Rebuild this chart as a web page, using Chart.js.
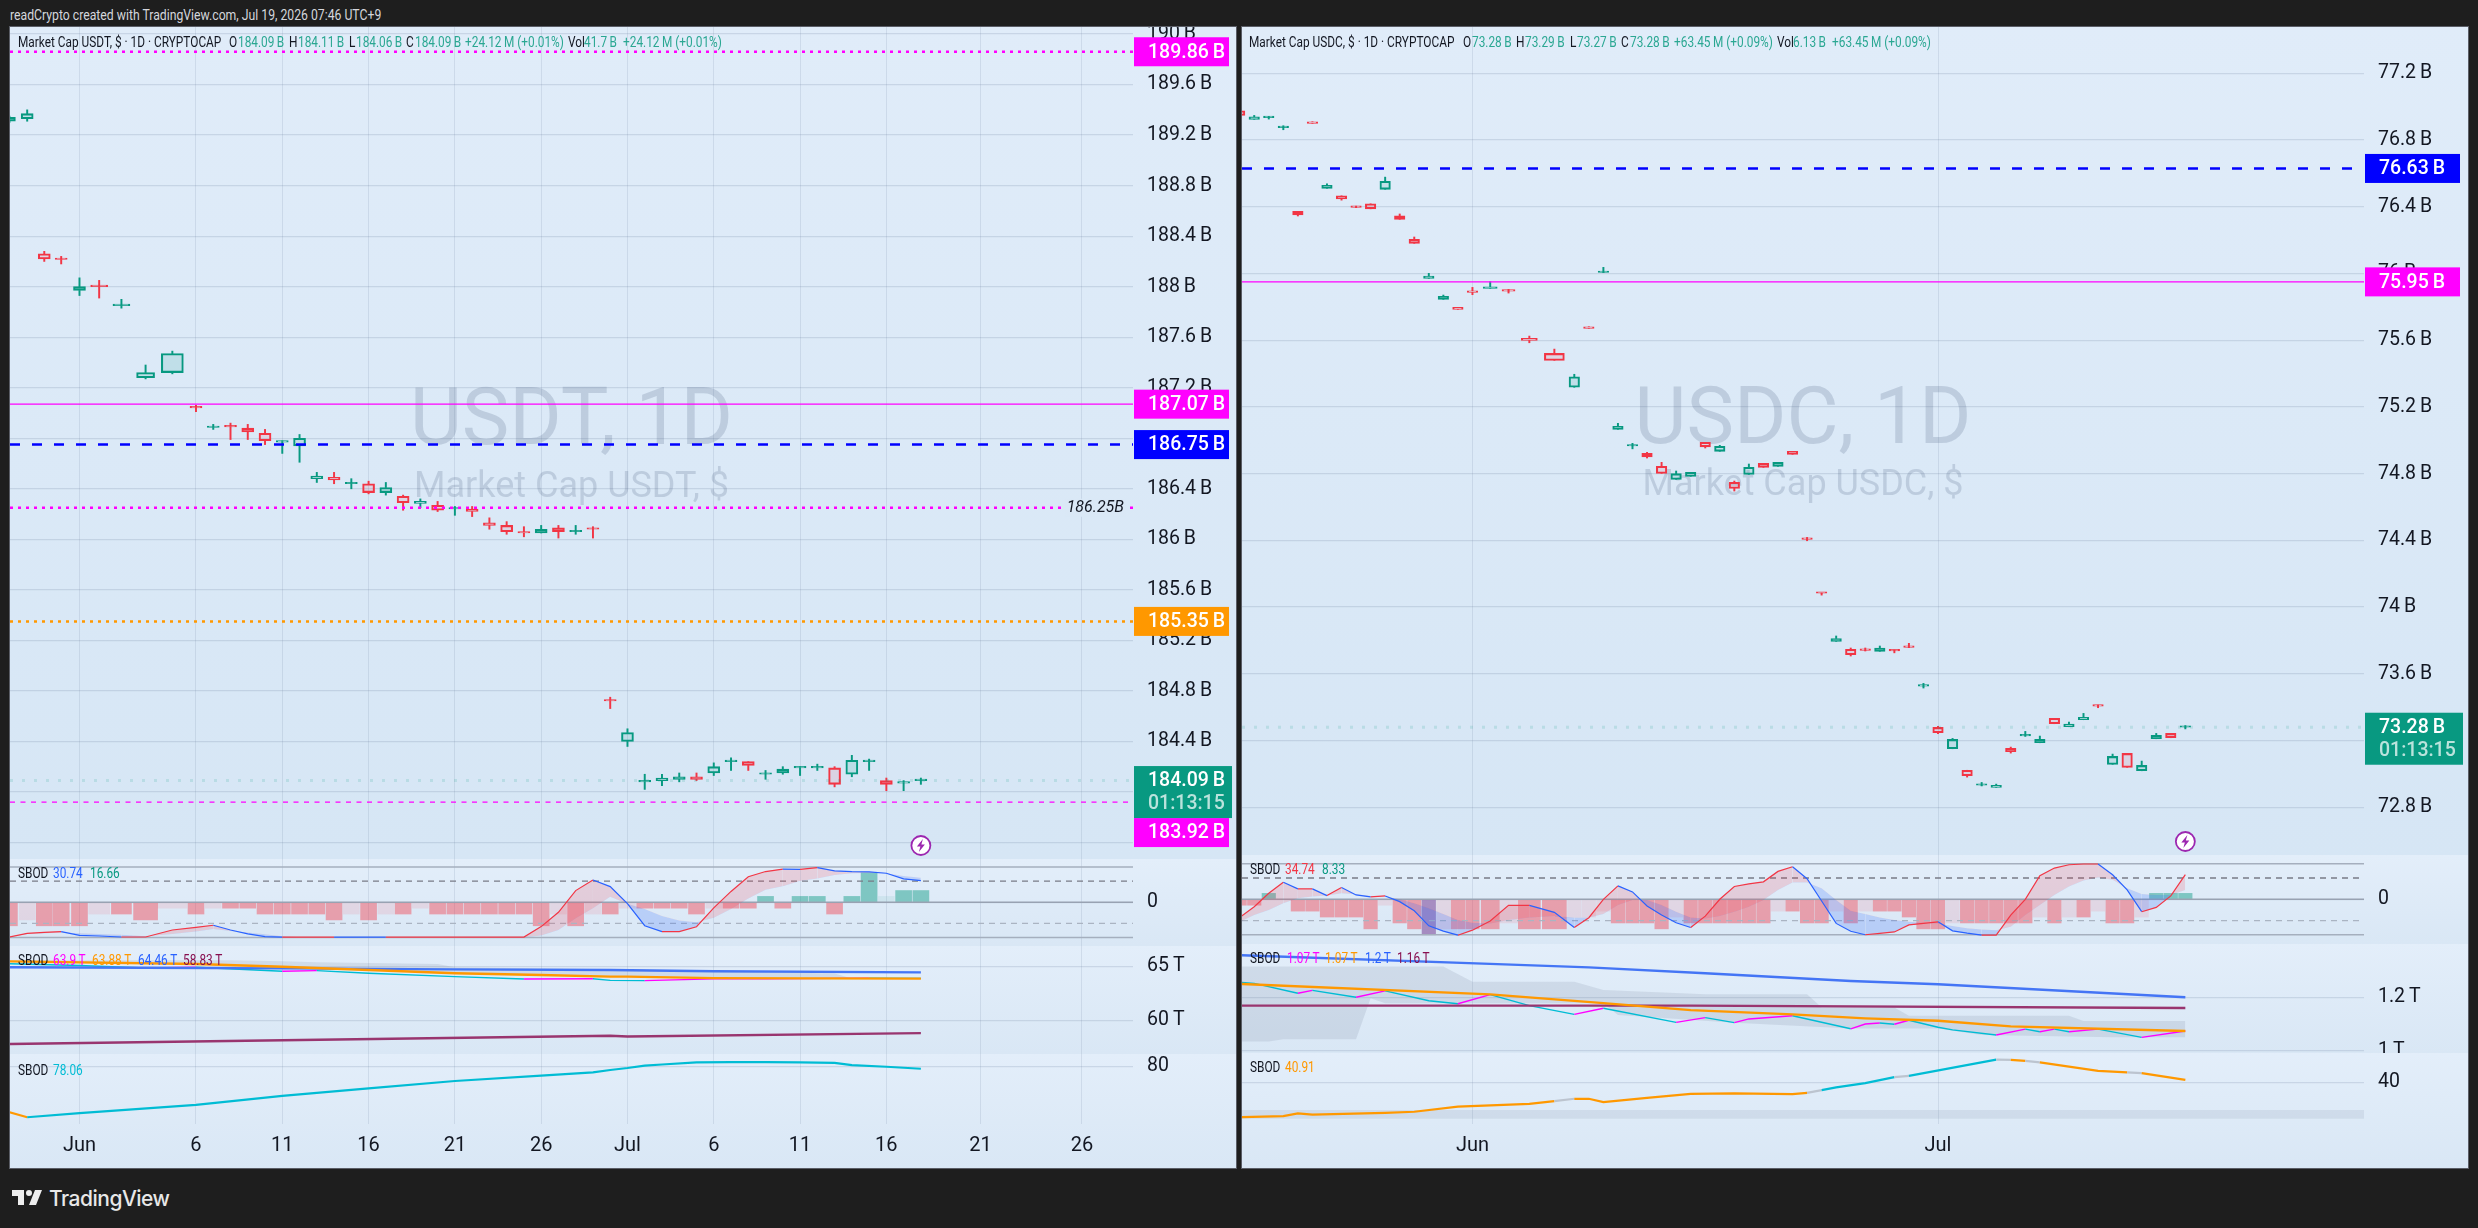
<!DOCTYPE html>
<html>
<head>
<meta charset="utf-8">
<title>USDT / USDC market cap</title>
<script src="https://cdn.jsdelivr.net/npm/chart.js@4/dist/chart.umd.js"></script>
<style>
  html, body { margin: 0; background: #1e1e1e; width: 2478px; height: 1228px; overflow: hidden; font-family: Roboto, sans-serif; }
  .pane { position: absolute; }
  .pane canvas { display: block; }
  .frame { position: absolute; border: 1px solid #5a5d66; pointer-events: none; box-sizing: border-box; }
  .txt { position: absolute; white-space: pre; line-height: 1; transform-origin: left center; z-index: 5; }
  #brand { position: absolute; left: 49px; top: 1186px; font: 500 21px Inter, sans-serif; letter-spacing: -0.5px; color: #e8e8e8; }
  #logo { position: absolute; left: 10px; top: 1184px; }
</style>
</head>
<body>
<svg id="logo" width="36" height="28" viewBox="0 0 36 28"><path fill="#eeeeee" d="M14 6H2v6h6v9h6V6Zm12 15h-7l6-15h7l-6 15Zm-7-9a3 3 0 1 0 0-6 3 3 0 0 0 0 6Z"/></svg>
<div id="brand">TradingView</div>
<div class="frame" style="left:9px;top:26px;width:1228px;height:1143px"></div>
<div class="frame" style="left:1241px;top:26px;width:1228px;height:1143px"></div>

<script>
// ---------- USDT ----------
const usdtBars = [0.19,1.22,2.21,3.19,4.25,5.39,6.68,8.08,9.63,11,12,13,14,15,16,17,18,19,20,21,22,23,24,25,26,27,28,29,30,31,32,33,34,35,36,37,38,39,40,41,42,43,44,45,46,47,48,49,50,51,52,53];
const usdtOpen = [189.31,189.33,188.26,188.22,187.97,188.005,187.85,187.28,187.32,187.045,186.885,186.895,186.88,186.84,186.77,186.74,186.48,186.49,186.44,186.44,186.37,186.34,186.285,186.27,186.24,186.24,186.13,186.11,186.06,186.05,186.09,186.06,186.085,184.725,184.40,184.08,184.09,184.10,184.12,184.15,184.24,184.24,184.14,184.15,184.19,184.19,184.19,184.14,184.24,184.09,184.07,184.09];
const usdtHigh = [189.35,189.40,188.28,188.24,188.07,188.05,187.90,187.38,187.49,187.06,186.91,186.92,186.91,186.87,186.78,186.83,186.53,186.53,186.48,186.46,186.45,186.35,186.32,186.30,186.26,186.26,186.17,186.14,186.10,186.11,186.11,186.11,186.10,184.75,184.50,184.14,184.14,184.15,184.15,184.23,184.27,184.24,184.17,184.20,184.20,184.22,184.20,184.29,184.26,184.11,184.09,184.11];
const usdtLow = [189.30,189.31,188.20,188.18,187.93,187.91,187.83,187.27,187.31,187.01,186.87,186.79,186.79,186.75,186.68,186.61,186.45,186.44,186.40,186.36,186.35,186.23,186.25,186.22,186.19,186.18,186.08,186.04,186.02,186.05,186.01,186.04,186.01,184.66,184.36,184.02,184.05,184.08,184.09,184.13,184.17,184.17,184.10,184.14,184.13,184.17,184.04,184.12,184.17,184.01,184.01,184.06];
const usdtClose = [189.34,189.37,188.22,188.215,188.00,188.00,187.855,187.32,187.47,187.04,186.89,186.89,186.85,186.78,186.775,186.80,186.50,186.47,186.445,186.37,186.41,186.29,186.30,186.23,186.245,186.22,186.11,186.06,186.05,186.08,186.06,186.065,186.08,184.72,184.47,184.085,184.11,184.12,184.10,184.20,184.245,184.21,184.145,184.18,184.195,184.195,184.06,184.25,184.245,184.06,184.075,184.09];
const usdtPriceTicks = [190,189.6,189.2,188.8,188.4,188,187.6,187.2,186.8,186.4,186,185.6,185.2,184.8,184.4,184,183.6];
const usdtDayTicks = [4.25,11,16,21,26,31,36,41,46,51,56.45,62.33];
const usdtDayLabels = ["Jun","6","11","16","21","26","Jul","6","11","16","21","26"];
const usdtHist = [-33.33,-25,-33.33,-33.33,-33.33,-16.66,-16.66,-25,-8.33,-16.66,-8.33,-8.33,-8.33,-16.66,-16.66,-16.66,-16.66,-25,-16.66,-25,-16.66,-16.66,-8.33,-16.66,-16.66,-16.66,-16.66,-16.66,-16.66,-33.33,-16.66,-33.33,-16.66,-16.66,-8.33,-8.33,-8.33,-8.33,-16.66,-8.33,-8.33,-8.33,8.33,-8.33,8.33,8.33,-16.66,8.33,41.65,8.33,16.66,16.66];
const usdtHistFaded = [2,6,9,11,19,21,23,31,33,35,40,50];
const usdtOsc = [-49.2,-44,-42.6,-41.6,-46.8,-47.8,-49.2,-49.2,-39.3,-35.5,-32.6,-39.3,-44.9,-48.7,-49.5,-49.45,-49.4,-49.35,-49.4,-49.45,-49.5,-49.48,-49.46,-49.44,-49.42,-49.4,-49.38,-49.36,-49.34,-34.5,-14.2,16.6,31.7,22.3,-2,-33.2,-41.7,-41.7,-34.7,-7.9,15.4,36.2,43.6,47.1,46.6,49.1,44.6,43.6,43.2,41.2,33.2,30.74];
const usdtOscAvg = [-49.5,-45,-44,-43,-44,-45,-46,-48,-45,-41.6,-38,-40.7,-43,-45.5,-48,-49.6,-49.6,-49.6,-49.6,-49.6,-49.6,-49.6,-49.6,-49.6,-49.6,-49.6,-49.6,-49.6,-49.6,-47,-39.3,-22.7,-8.5,7.9,-2,-9.5,-19.3,-25.8,-28.3,-21.8,-9.5,5.5,17.9,22.8,30.2,33.7,38.7,41.2,41.7,41.2,37.2,34.7];
// bar numbers are 1-based positions in usdtBars
const usdtFastBars = [1,5,8,10,15,17,20,25,29,33,34,36,40,43,49,52];
const usdtFast = [65.26,65.1,64.86,64.93,64.56,64.62,64.37,64.06,63.84,63.87,63.72,63.69,63.86,63.86,63.93,63.9];
const usdtEmaBars = [1,10,15,20,25,30,34,35,40,52];
const usdtEma = [65.48,65.23,64.98,64.68,64.37,64.21,64.06,64.06,63.93,63.88];
const usdtMaBars = [1,15,25,34,40,52];
const usdtMa = [64.93,64.83,64.74,64.68,64.56,64.46];
const usdtLongBars = [1,34,35,52];
const usdtLong = [57.82,58.59,58.52,58.83];
const usdtCloudBars = [1,12,15,17,24,25,34,47,48,52];
const usdtCloud = [65.57,65.57,65.48,65.40,65.23,64.93,64.74,64.35,63.9,63.9];
const usdtRsiBars = [1,2,5,10,15,20,25,30,33,34,35,36,37,39,41,43,45,47,48,50,52];
const usdtRsi = [44.5,40.7,43.8,50.2,57.1,63,68.6,72.7,75.3,77.1,78.6,80.4,81.3,82.9,83.1,83.2,83,82.5,80.8,79.6,78.06];

// ---------- USDC ----------
const usdcBars = [-1,0,1,2,3,4,5,6,7,8,9,10,11,12,13,14,15,16.22,17.48,18.91,20.63,22,23,24,25,26,27,28,29,30,31,32,33,34,35,36,37,38,39,40,41,42,43,44,45,46,47,48,49,50,51,52,53,54,55,56,57,58,59,60,61,62,63,64];
const usdcOpen = [76.976,76.924,76.935,76.875,76.373,76.910,76.511,76.466,76.398,76.418,76.505,76.346,76.205,75.971,75.845,75.797,75.897,75.911,75.896,75.611,75.521,75.318,75.681,76.006,75.066,74.966,74.922,74.844,74.766,74.784,74.988,74.934,74.748,74.796,74.862,74.844,74.934,74.407,74.084,73.794,73.747,73.742,73.735,73.739,73.760,73.526,73.279,73.151,73.022,72.932,72.919,73.153,73.228,73.187,73.333,73.283,73.325,73.408,73.057,73.123,73.019,73.211,73.243,73.28];
const usdcHigh = [76.976,76.948,76.942,76.886,76.373,76.910,76.538,76.466,76.404,76.418,76.578,76.357,76.219,76.001,75.871,75.797,75.917,75.951,75.905,75.625,75.547,75.396,75.681,76.037,75.102,74.982,74.928,74.868,74.816,74.808,74.988,74.970,74.756,74.858,74.862,74.868,74.934,74.418,74.084,73.827,73.755,73.755,73.767,73.743,73.783,73.543,73.285,73.213,73.022,72.949,72.939,73.161,73.255,73.227,73.333,73.311,73.363,73.413,73.119,73.123,73.077,73.243,73.243,73.29];
const usdcLow = [76.948,76.924,76.926,76.862,76.345,76.900,76.511,76.440,76.395,76.388,76.505,76.325,76.181,75.971,75.845,75.785,75.873,75.911,75.883,75.585,75.479,75.318,75.671,76.006,75.066,74.949,74.894,74.802,74.766,74.784,74.954,74.934,74.696,74.796,74.838,74.844,74.916,74.398,74.072,73.794,73.707,73.737,73.735,73.726,73.757,73.515,73.241,73.151,72.981,72.928,72.919,73.125,73.225,73.187,73.301,73.283,73.325,73.397,73.057,73.039,73.019,73.211,73.217,73.27];
const usdcClose = [76.948,76.940,76.936,76.876,76.352,76.900,76.529,76.448,76.397,76.388,76.553,76.325,76.181,75.985,75.863,75.785,75.887,75.921,75.895,75.599,75.479,75.381,75.671,76.007,75.084,74.967,74.901,74.802,74.800,74.808,74.961,74.964,74.712,74.838,74.838,74.868,74.916,74.406,74.083,73.812,73.715,73.741,73.755,73.738,73.759,73.527,73.247,73.207,72.989,72.933,72.931,73.133,73.229,73.207,73.301,73.299,73.339,73.407,73.105,73.039,73.051,73.231,73.217,73.28];
const usdcPriceTicks = [77.2,76.8,76.4,76,75.6,75.2,74.8,74.4,74,73.6,73.2,72.8];
const usdcDayTicks = [15,47];
const usdcDayLabels = ["Jun","Jul"];
const usdcHist = [-8.33,-8.33,8.33,0,-16.66,-16.66,-25,-25,-25,-41.65,-8.33,-33.33,-41.65,-50,-41.65,-41.65,-41.65,-41.65,-33.33,-41.65,-41.65,-25,-25,-16.66,-33.33,-33.33,-33.33,-41.65,-25,-33.33,-33.33,-33.33,-33.33,-33.33,-33.33,-16.66,-16.66,-33.33,-33.33,-16.66,-33.33,-16.66,-16.66,-16.66,-25,-41.65,-41.65,-33.33,-33.33,-33.33,-33.33,-33.33,-33.33,-25,-33.33,-25,-25,-16.66,-33.33,-33.33,-25,8.33,8.33,8.33];
const usdcHistFaded = [11,15,19,22,23,24,29,36,40,42,48,54,56,58,61];
const usdcOsc = [-25.5,-10.4,8.5,24.1,14.7,14.7,5.2,16.6,6.1,3.3,4.7,-3.3,-16.1,-37.4,-44.9,-50.6,-43.5,-30.7,-8.5,-8.5,-18.4,-39.7,-26,0,18.9,10.4,-9.5,-22.2,-33.1,-39.7,-23.7,0,18,21.8,24.6,39.3,45.9,28.9,-2.4,-34,-45,-50,-48,-46,-36,-34,-31.7,-44.5,-47.8,-50.6,-50.6,-22.2,0,33.1,44,48.7,49.7,49.7,34.5,13.2,-17.5,-11.4,4.7,34.74];
const usdcOscAvg = [-32,-22,-15,-5.7,1.4,3.8,5.2,8.5,7,4.7,3.8,0,-5.7,-12.8,-20.8,-29.3,-33.1,-34,-29.3,-25.5,-23.7,-25.5,-25.5,-20.8,-8,-0.9,-0.9,-8,-17.5,-25.5,-27,-23.7,-17.5,-10.4,-0.9,13.2,23.7,23.7,15.6,-0.9,-16.1,-20.8,-25.5,-29.3,-31.7,-33.1,-34,-37.8,-40.7,-42.6,-43.5,-38.8,-22.2,-8,6.1,18,26.5,30.7,27.4,15.6,7.6,6.1,6.1,13.2];
const usdcFastBars = [1,2,5,6,9,11,14,16,18,20,22,24,29,31,33,34,37,41,42,43,44,45,47,48,51,53,54,55,56,58,61,64];
const usdcFast = [1.256,1.252,1.215,1.226,1.200,1.224,1.187,1.176,1.210,1.169,1.136,1.159,1.106,1.124,1.105,1.119,1.131,1.082,1.100,1.104,1.099,1.114,1.088,1.078,1.059,1.081,1.071,1.081,1.071,1.081,1.050,1.074];
const usdcEmaBars = [1,18,24,30,37,42,47,52,64];
const usdcEma = [1.25,1.211,1.178,1.152,1.136,1.121,1.112,1.091,1.074];
const usdcMaBars = [1,18,23,31,41,47,64];
const usdcMa = [1.358,1.325,1.312,1.29,1.261,1.249,1.2];
const usdcLongBars = [1,30,64];
const usdcLong = [1.169,1.169,1.16];
const usdcCloudBars = [1,15,17,22,24,31,38,39,44,45,56,57,64];
const usdcCloudTop = [1.315,1.315,1.258,1.258,1.227,1.211,1.211,1.162,1.162,1.131,1.131,1.111,1.111];
const usdcCloudLowBars = [1,3,4,9,10,11,24,25,33,41,47,50,59,64];
const usdcCloudLow = [1.034,1.034,1.043,1.043,1.196,1.178,1.178,1.134,1.105,1.083,1.083,1.059,1.05,1.05];
const usdcRsiBars = [1,4,5,6,11,13,16,20,21,22,23,24,27,30,33,37,38,39,40,42,44,45,51,52,53,54,58,60,61,64];
const usdcRsi = [27.1,27.5,28.5,28,28.7,29.1,31,32,33,33.9,33.9,32.7,34.2,35.7,35.9,35.6,36.1,37.1,38.1,39.7,41.9,42.4,48.4,48.3,47.9,47.4,44.2,43.7,43.4,40.91];
// state of each leg of the line: d = down, u = up, n = neutral
const usdcRsiTrend = ["d","d","d","d","d","d","d","d","n","d","d","d","d","d","d","d","n","u","u","u","n","u","n","d","n","d","d","n","d"];

// ---------- look ----------
const UP = "#089981", DOWN = "#f23645", MAGENTA = "#ff00ff", BLUE = "#0000ff", ORANGE = "#ff9800";
const CYAN = "#00bcd4", OSC_RED = "#f23645", OSC_BLUE = "#2962ff";
const FONT = "Roboto, sans-serif";
const AXIS_TEXT = "#131722";
const GRID_V = "rgba(105,125,155,0.16)", GRID_H = "rgba(105,125,155,0.2)";
const MAIN_BG = ["#e0ecf9", "#d6e6f5"], SUB_BG = ["#e3eefa", "#d9e7f5"];

// candle body and histogram widths where the time axis is stretched
const usdtBodyW = { 6: 17, 7: 17, 8: 18, 9: 22 }, usdtHistW = { 6: 21, 7: 20, 8: 24, 9: 29 };
const usdcBodyW = { 18: 14, 19: 13, 20: 16, 21: 20 }, usdcHistW = { 18: 18, 19: 18, 20: 22, 21: 24 };

const at = (bars, numbers, values) => numbers.map((n, i) => ({ x: bars[n - 1], y: values[i] }));

function candleSets(bars, o, h, l, c, bodyW, normalW) {
  const sets = [];
  const wick = (up) => ({
    type: "bar", order: 6, grouped: false, barThickness: 1.3,
    backgroundColor: up ? UP : DOWN,
    data: bars.flatMap((x, i) => (c[i] >= o[i]) === up
      ? [{ x, y: [Math.max(o[i], c[i]), h[i]] }, { x, y: [l[i], Math.min(o[i], c[i])] }]
      : [])
  });
  sets.push(wick(true), wick(false));
  // bodies are split by width, since bar thickness is set per dataset
  const groups = new Map();
  bars.forEach((x, i) => {
    const w = bodyW[i + 1] || normalW, up = c[i] >= o[i], key = w + (up ? "u" : "d");
    if (!groups.has(key)) groups.set(key, { w, up, data: [] });
    groups.get(key).data.push({ x, y: [o[i], c[i]] });
  });
  groups.forEach(g => sets.push({
    type: "bar", order: 5, grouped: false, barThickness: g.w, minBarLength: 1.5,
    borderWidth: 1.4, borderSkipped: false,
    borderColor: g.up ? UP : DOWN,
    backgroundColor: g.up ? "rgba(8,153,129,0.13)" : "rgba(242,54,69,0.11)",
    data: g.data
  }));
  return sets;
}

function histSets(bars, values, faded, widths, normalW) {
  const colour = (v, weak) => {
    if (v <= -50) return "rgba(112,48,140,0.5)";
    if (v >= 0) return weak ? "rgba(8,153,129,0.08)" : "rgba(8,153,129,0.45)";
    return weak ? "rgba(250,70,90,0.12)" : "rgba(242,54,69,0.42)";
  };
  const groups = new Map();
  bars.forEach((x, i) => {
    const w = widths[i + 1] || normalW;
    if (!groups.has(w)) groups.set(w, { w, data: [], colours: [] });
    groups.get(w).data.push({ x, y: values[i] });
    groups.get(w).colours.push(colour(values[i], faded.includes(i + 1)));
  });
  return [...groups.values()].map(g => ({
    type: "bar", order: 5, grouped: false, barThickness: g.w,
    backgroundColor: g.colours, data: g.data
  }));
}

function level(xMin, xMax, value, color, width, dash, order = 0) {
  return {
    type: "line", order, data: [{ x: xMin, y: value }, { x: xMax, y: value }],
    borderColor: color, borderWidth: width, borderDash: dash || [], pointRadius: 0
  };
}

function line(data, color, width, extra) {
  return Object.assign({ type: "line", order: 1, data, borderColor: color, borderWidth: width, pointRadius: 0, tension: 0, fill: false }, extra);
}

// pane background, a soft vertical wash
const paneBg = {
  id: "paneBg",
  beforeDraw(chart, args, opts) {
    const { ctx, width, height } = chart;
    const g = ctx.createLinearGradient(0, 0, 0, height);
    g.addColorStop(0, opts.stops[0]);
    g.addColorStop(1, opts.stops[1]);
    ctx.fillStyle = g;
    ctx.fillRect(0, 0, width, height);
  }
};

const watermark = {
  id: "watermark",
  beforeDatasetsDraw(chart, args, opts) {
    const { ctx, chartArea: a } = chart;
    const cx = (a.left + a.right) / 2;
    ctx.save();
    ctx.fillStyle = "rgba(70,92,125,0.2)";
    ctx.textAlign = "center";
    ctx.textBaseline = "alphabetic";
    ctx.font = "400 " + opts.bigSize + "px " + FONT;
    ctx.fillText(opts.big, cx, opts.bigY);
    ctx.font = "400 " + opts.smallSize + "px " + FONT;
    ctx.fillText(opts.small, cx, opts.smallY);
    ctx.restore();
  }
};

// coloured boxes on the price axis, plus the bolt marker under the last bar
const priceTags = {
  id: "priceTags",
  afterDraw(chart, args, opts) {
    const { ctx, chartArea: a } = chart;
    const y = chart.scales.y, x = chart.scales.x;
    const left = a.right + 1;
    ctx.save();
    ctx.textBaseline = "middle";
    ctx.textAlign = "left";
    const tagFont = "500 19.5px " + FONT;
    const lastY = y.getPixelForValue(opts.last);
    const lastTop = lastY - 14.5, lastBottom = lastTop + 52;
    opts.tags.forEach(t => {
      let py = y.getPixelForValue(t.value);
      if (py > lastTop - 14.5 && py < lastBottom + 14.5) py = lastBottom + 14.5;
      ctx.fillStyle = t.color;
      ctx.fillRect(left, py - 14.5, 95, 29);
      ctx.fillStyle = "#fff";
      ctx.font = tagFont;
      ctx.fillText(t.value.toFixed(2) + "\u2009B", left + 14, py + 1);
    });
    ctx.fillStyle = UP;
    ctx.fillRect(left, lastTop, 98, 52);
    ctx.fillStyle = "#fff";
    ctx.font = tagFont;
    ctx.fillText(opts.last.toFixed(2) + "\u2009B", left + 14, lastY + 1);
    ctx.fillStyle = "rgba(255,255,255,0.72)";
    ctx.fillText(opts.countdown, left + 14, lastY + 24);
    if (opts.note) {
      const ny = y.getPixelForValue(opts.note);
      ctx.textAlign = "right";
      ctx.font = "italic 16px " + FONT;
      const label = opts.note.toFixed(2) + "B";
      const w = ctx.measureText(label).width;
      ctx.fillStyle = "#dae8f6";
      ctx.fillRect(a.right - 9 - w - 2, ny - 9, w + 4, 18);
      ctx.fillStyle = AXIS_TEXT;
      ctx.fillText(label, a.right - 9, ny);
    }
    // bolt marker
    const bx = x.getPixelForValue(opts.lastBar), by = a.bottom - 13.5;
    ctx.beginPath();
    ctx.arc(bx, by, 9.5, 0, Math.PI * 2);
    ctx.fillStyle = "#fff";
    ctx.fill();
    ctx.lineWidth = 1.8;
    ctx.strokeStyle = "#9c27b0";
    ctx.stroke();
    ctx.beginPath();
    ctx.moveTo(bx + 2, by - 6.5);
    ctx.lineTo(bx - 4, by + 1);
    ctx.lineTo(bx - 0.5, by + 1);
    ctx.lineTo(bx - 2, by + 6.5);
    ctx.lineTo(bx + 4, by - 1);
    ctx.lineTo(bx + 0.5, by - 1);
    ctx.closePath();
    ctx.fillStyle = "#9c27b0";
    ctx.fill();
    ctx.restore();
  }
};

// scales report half-label overhang to the layout; panes need their full height
const noOverhang = s => { s.paddingTop = s.paddingBottom = s.paddingLeft = s.paddingRight = 0; };

function makePane(id, geo, datasets, yOpts, xOpts, bgStops, extraPlugins, pluginOpts) {
  const holder = document.createElement("div");
  holder.className = "pane";
  holder.style.cssText = `left:${geo.left}px;top:${geo.top}px;width:${geo.width}px;height:${geo.height}px`;
  const canvas = document.createElement("canvas");
  canvas.id = id;
  canvas.width = geo.width;
  canvas.height = geo.height;
  holder.appendChild(canvas);
  document.body.appendChild(holder);

  return new Chart(canvas, {
    type: "bar",
    data: { datasets },
    plugins: [paneBg].concat(extraPlugins || []),
    options: {
      responsive: false,
      animation: false,
      events: [],
      layout: { autoPadding: false, padding: 0 },
      plugins: Object.assign({
        legend: { display: false },
        tooltip: { enabled: false },
        paneBg: { stops: bgStops }
      }, pluginOpts || {}),
      scales: {
        x: {
          type: "linear",
          offset: false,
          min: xOpts.min,
          max: xOpts.max,
          border: { display: false },
          grid: { color: GRID_V, offset: false, drawTicks: false, lineWidth: 1 },
          afterBuildTicks: s => { s.ticks = xOpts.ticks.map(value => ({ value })); },
          afterFit: s => { s.height = xOpts.labels ? xOpts.axisH : 0; noOverhang(s); },
          ticks: xOpts.labels
            ? { autoSkip: false, maxRotation: 0, padding: 10, color: AXIS_TEXT, font: { family: FONT, size: 20 }, callback: (v, i) => xOpts.labels[i] }
            : { display: false }
        },
        y: {
          type: "linear",
          position: "right",
          min: yOpts.min,
          max: yOpts.max,
          border: { display: false },
          grid: { color: GRID_H, drawTicks: false, lineWidth: 1.3 },
          afterBuildTicks: s => { s.ticks = yOpts.ticks.map(value => ({ value })); },
          afterFit: s => { s.width = geo.axisW; noOverhang(s); },
          ticks: {
            autoSkip: false,
            crossAlign: "near",
            padding: 14,
            color: AXIS_TEXT,
            font: { family: FONT, size: 19.5 },
            callback: yOpts.format
          }
        }
      }
    }
  });
}

// oscillator pane: histogram, fill between line and its average, guide levels
function oscSets(bars, hist, faded, widths, normalW, osc, avg, xr) {
  const sets = [
    line(bars.map((x, i) => ({ x, y: osc[i] })), OSC_RED, 1.2, {
      order: 1,
      fill: { target: 1, above: "rgba(242,54,69,0.17)", below: "rgba(41,98,255,0.2)" },
      segment: { borderColor: c => c.p1.parsed.y >= c.p0.parsed.y ? OSC_RED : OSC_BLUE }
    }),
    line(bars.map((x, i) => ({ x, y: avg[i] })), "rgba(0,0,0,0)", 0, { order: 2 }),
    level(xr.min, xr.max, 50, "#a5afbe", 1.5, null, 4),
    level(xr.min, xr.max, -50, "#a5afbe", 1.5, null, 4),
    level(xr.min, xr.max, 0, "#98a2b2", 1.5, null, 4),
    level(xr.min, xr.max, 30, "#787b86", 1.3, [6, 5], 4),
    level(xr.min, xr.max, -30, "#aab4c2", 1.3, [6, 5], 4)
  ];
  return sets.concat(histSets(bars, hist, faded, widths, normalW));
}

const fastSegment = { borderColor: c => c.p1.parsed.y >= c.p0.parsed.y ? MAGENTA : CYAN };
const tf = v => +v.toFixed(1) + "\u2009B";

// ---------- USDT charts ----------
{
  const g = { left: 10, width: 1226, axisW: 103 };
  const xr = { min: 0.224, max: 65.29, ticks: usdtDayTicks };
  const last = usdtClose[usdtClose.length - 1];
  const lastBar = usdtBars[usdtBars.length - 1];

  makePane("usdtMain", { ...g, top: 27, height: 832 }, [
    level(xr.min, xr.max, 189.86, MAGENTA, 2.5, [3, 5]),
    level(xr.min, xr.max, 187.07, MAGENTA, 1.4),
    level(xr.min, xr.max, 186.75, BLUE, 2.5, [10, 12]),
    level(xr.min, xr.max, 186.25, MAGENTA, 2.5, [3, 5]),
    level(xr.min, xr.max, 185.35, ORANGE, 2.5, [3, 5]),
    level(xr.min, xr.max, last, "rgba(8,153,129,0.14)", 3, [3, 9]),
    level(xr.min, xr.max, 183.92, MAGENTA, 1.2, [5, 5.5]),
    ...candleSets(usdtBars, usdtOpen, usdtHigh, usdtLow, usdtClose, usdtBodyW, 12)
  ], { min: 183.469, max: 190.056, ticks: usdtPriceTicks, format: v => v === 186.8 ? "" : tf(v) }, xr, MAIN_BG, [watermark, priceTags], {
    watermark: { big: "USDT, 1D", bigSize: 80, bigY: 417, small: "Market Cap USDT, $", smallSize: 36, smallY: 470 },
    priceTags: {
      last, lastBar, countdown: "01:13:15", note: 186.25,
      tags: [
        { value: 189.86, color: MAGENTA }, { value: 187.07, color: MAGENTA }, { value: 186.75, color: BLUE },
        { value: 185.35, color: ORANGE }, { value: 183.92, color: MAGENTA }
      ]
    }
  });

  makePane("usdtOsc", { ...g, top: 859, height: 87 },
    oscSets(usdtBars, usdtHist, usdtHistFaded, usdtHistW, 16, usdtOsc, usdtOscAvg, xr),
    { min: -62, max: 61.4, ticks: [0], format: v => String(v) }, xr, SUB_BG);

  const ema = line(at(usdtBars, usdtEmaBars, usdtEma), ORANGE, 2.4);
  makePane("usdtMas", { ...g, top: 946, height: 108 }, [
    line(at(usdtBars, usdtFastBars, usdtFast), CYAN, 1.4, { order: 2, segment: fastSegment }),
    ema,
    line(at(usdtBars, usdtMaBars, usdtMa), "#4475f5", 2.4, { order: 1 }),
    line(at(usdtBars, usdtLongBars, usdtLong), "#99356f", 2.4, { order: 1 }),
    line(at(usdtBars, usdtCloudBars, usdtCloud), "rgba(0,0,0,0)", 0, { order: 4, fill: { target: 1, above: "rgba(110,125,150,0.16)", below: "rgba(110,125,150,0.16)" } })
  ], { min: 56.9, max: 66.9, ticks: [65, 60], format: v => v + "\u2009T" }, xr, SUB_BG);

  makePane("usdtRsi", { ...g, top: 1054, height: 114 }, [
    line(at(usdtBars, usdtRsiBars, usdtRsi), CYAN, 2.2, {
      segment: { borderColor: c => c.p1DataIndex === 1 ? ORANGE : CYAN }
    })
  ], { min: 35.5, max: 89.4, ticks: [80], format: v => String(v) },
    { ...xr, labels: usdtDayLabels, axisH: 44 }, SUB_BG);
}

// ---------- USDC charts ----------
{
  const g = { left: 1242, width: 1226, axisW: 104 };
  const xr = { min: -0.84, max: 76.28, ticks: usdcDayTicks };
  const last = usdcClose[usdcClose.length - 1];
  const lastBar = usdcBars[usdcBars.length - 1];

  makePane("usdcMain", { ...g, top: 27, height: 828 }, [
    level(xr.min, xr.max, 76.63, BLUE, 2.5, [10, 12]),
    level(xr.min, xr.max, 75.95, MAGENTA, 1.4),
    level(xr.min, xr.max, last, "rgba(8,153,129,0.14)", 3, [3, 9]),
    ...candleSets(usdcBars, usdcOpen, usdcHigh, usdcLow, usdcClose, usdcBodyW, 10.5)
  ], { min: 72.514, max: 77.478, ticks: usdcPriceTicks, format: tf }, xr, MAIN_BG, [watermark, priceTags], {
    watermark: { big: "USDC, 1D", bigSize: 80, bigY: 416, small: "Market Cap USDC, $", smallSize: 36, smallY: 468 },
    priceTags: {
      last, lastBar, countdown: "01:13:15",
      tags: [{ value: 76.63, color: BLUE }, { value: 75.95, color: MAGENTA }]
    }
  });

  makePane("usdcOsc", { ...g, top: 855, height: 89 },
    oscSets(usdcBars, usdcHist, usdcHistFaded, usdcHistW, 13.5, usdcOsc, usdcOscAvg, xr),
    { min: -63, max: 62.4, ticks: [0], format: v => String(v) }, xr, SUB_BG);

  makePane("usdcMas", { ...g, top: 944, height: 109 }, [
    line(at(usdcBars, usdcFastBars, usdcFast), CYAN, 1.4, { order: 2, segment: fastSegment }),
    line(at(usdcBars, usdcEmaBars, usdcEma), ORANGE, 2.4),
    line(at(usdcBars, usdcMaBars, usdcMa), "#4475f5", 2.4, { order: 1 }),
    line(at(usdcBars, usdcLongBars, usdcLong), "#99356f", 2.4, { order: 1 }),
    line(at(usdcBars, usdcCloudBars, usdcCloudTop), "rgba(0,0,0,0)", 0, { order: 4, fill: { target: 5, above: "rgba(110,125,150,0.16)", below: "rgba(110,125,150,0.16)" } }),
    line(at(usdcBars, usdcCloudLowBars, usdcCloudLow), "rgba(0,0,0,0)", 0, { order: 4 })
  ], { min: 0.9914, max: 1.3996, ticks: [1.2, 1], format: v => v + "\u2009T" }, xr, SUB_BG);

  const trendColour = { d: ORANGE, u: CYAN, n: "#bcc4cf" };
  makePane("usdcRsi", { ...g, top: 1053, height: 115 }, [
    line(at(usdcBars, usdcRsiBars, usdcRsi), ORANGE, 2.2, {
      segment: { borderColor: c => trendColour[usdcRsiTrend[c.p0DataIndex]] }
    }),
    level(xr.min, xr.max, 29.7, "rgba(0,0,0,0)", 0, null, 4),
    Object.assign(level(xr.min, xr.max, 26.5, "rgba(0,0,0,0)", 0, null, 4), { fill: { target: 1, above: "rgba(110,125,150,0.13)", below: "rgba(110,125,150,0.13)" } })
  ], { min: 24.56, max: 50.85, ticks: [40], format: v => String(v) },
    { ...xr, labels: usdcDayLabels, axisH: 44 }, SUB_BG);
}

// ---------- text rows ----------
function put(x, y, text, color, squeeze) {
  const s = document.createElement("span");
  s.className = "txt";
  s.textContent = text;
  s.style.cssText = `left:${x}px;top:${y}px;color:${color};font-size:15px;transform:translateY(-50%) scaleX(${squeeze || 0.79})`;
  document.body.appendChild(s);
}
const TEXT = "#131722", VALUE = "#2aa792";
put(10, 15, "readCrypto created with TradingView.com, Jul 19, 2026 07:46 UTC+9", "#d4d6dc", 0.815);

const rows = [
  [18, 42, "Market Cap USDT, $ · 1D · CRYPTOCAP", TEXT], [229, 42, "O", TEXT], [238, 42, "184.09\u2009B", VALUE],
  [289, 42, "H", TEXT], [298, 42, "184.11\u2009B", VALUE], [349, 42, "L", TEXT], [356, 42, "184.06\u2009B", VALUE],
  [406, 42, "C", TEXT], [415, 42, "184.09\u2009B", VALUE], [465, 42, "+24.12\u2009M (+0.01%)", VALUE],
  [568, 42, "Vol", TEXT], [584, 42, "41.7\u2009B", VALUE], [623, 42, "+24.12\u2009M (+0.01%)", VALUE],
  [18, 873, "SBOD", TEXT], [53, 873, "30.74", OSC_BLUE], [90, 873, "16.66", UP],
  [18, 960, "SBOD", TEXT], [53, 960, "63.9\u2009T", MAGENTA], [92, 960, "63.88\u2009T", ORANGE], [138, 960, "64.46\u2009T", OSC_BLUE], [183, 960, "58.83\u2009T", "#880e4f"],
  [18, 1070, "SBOD", TEXT], [53, 1070, "78.06", CYAN],

  [1249, 42, "Market Cap USDC, $ · 1D · CRYPTOCAP", TEXT], [1463, 42, "O", TEXT], [1472, 42, "73.28\u2009B", VALUE],
  [1516, 42, "H", TEXT], [1525, 42, "73.29\u2009B", VALUE], [1570, 42, "L", TEXT], [1577, 42, "73.27\u2009B", VALUE],
  [1621, 42, "C", TEXT], [1630, 42, "73.28\u2009B", VALUE], [1674, 42, "+63.45\u2009M (+0.09%)", VALUE],
  [1777, 42, "Vol", TEXT], [1793, 42, "6.13\u2009B", VALUE], [1832, 42, "+63.45\u2009M (+0.09%)", VALUE],
  [1250, 869, "SBOD", TEXT], [1285, 869, "34.74", DOWN], [1322, 869, "8.33", UP],
  [1250, 958, "SBOD", TEXT], [1287, 958, "1.07\u2009T", MAGENTA], [1325, 958, "1.07\u2009T", ORANGE], [1365, 958, "1.2\u2009T", OSC_BLUE], [1397, 958, "1.16\u2009T", "#880e4f"],
  [1250, 1067, "SBOD", TEXT], [1285, 1067, "40.91", ORANGE]
];
rows.forEach(r => put(r[0], r[1], r[2], r[3]));
</script>
</body>
</html>
